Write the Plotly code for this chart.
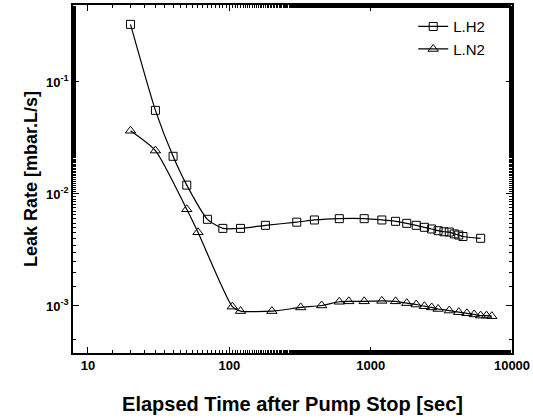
import plotly.graph_objects as go

h2_time = [20, 30, 40, 50, 70, 90, 120, 180, 300, 400, 600, 900, 1200, 1500, 1800,
           2100, 2400, 2700, 3000, 3300, 3600, 3900, 4200, 4500, 6000]
h2_rate = [0.327, 0.0558, 0.0217, 0.0120, 0.00594, 0.00493, 0.00493, 0.00525, 0.0056,
           0.00586, 0.00602, 0.00602, 0.00586, 0.0057, 0.00547, 0.00525, 0.00504,
           0.00487, 0.0047, 0.0046, 0.00457, 0.0044, 0.0043, 0.00417, 0.00402]

n2_time = [20, 30, 50, 60, 105, 120, 200, 320, 450, 600, 700, 900, 1200, 1500, 1800,
           2100, 2400, 2700, 3000, 3600, 4200, 4800, 5400, 6000, 6600, 7200]
n2_rate = [0.0367, 0.0244, 0.0073, 0.00455, 0.000986, 0.0009, 0.0009, 0.00097, 0.00101,
           0.00109, 0.0011, 0.0011, 0.00111, 0.0011, 0.00106, 0.00103, 0.000995, 0.00097,
           0.00094, 0.00091, 0.00088, 0.00086, 0.00084, 0.00082, 0.00082, 0.00081]

x_ticks = [10, 100, 1000, 10000]
x_ticktext = ["10", "100", "1000", "10000"]
y_ticks = [0.1, 0.01, 0.001]
y_ticktext = ["10<sup>-1</sup>", "10<sup>-2</sup>", "10<sup>-3</sup>"]

fig = go.Figure()
fig.add_trace(go.Scatter(
    x=h2_time, y=h2_rate, name="L.H2", mode="lines+markers",
    line=dict(color="black", width=1.2, shape="spline", smoothing=0.6),
    marker=dict(symbol="square-open", size=8, color="black", line=dict(width=1))))
fig.add_trace(go.Scatter(
    x=n2_time, y=n2_rate, name="L.N2", mode="lines+markers",
    line=dict(color="black", width=1.2, shape="spline", smoothing=0.6),
    marker=dict(symbol="triangle-up-open", size=9, color="black", line=dict(width=1))))

axis_common = dict(
    type="log", showline=True, linecolor="black", linewidth=1.5, mirror="allticks",
    ticks="inside", ticklen=6, tickwidth=1.2, tickcolor="black", showgrid=False,
    zeroline=False, automargin=False,
    minor=dict(ticks="inside", ticklen=3, tickwidth=1, tickcolor="black", showgrid=False),
    tickfont=dict(family="Liberation Sans", size=13, color="black", weight="bold"),
)

fig.update_layout(
    width=533, height=418,
    margin=dict(l=73, r=21, t=5, b=65),
    paper_bgcolor="white", plot_bgcolor="white",
    font=dict(family="Liberation Sans", color="black"),
    showlegend=True,
    legend=dict(x=0.775, y=0.985, xanchor="left", yanchor="top", bgcolor="rgba(0,0,0,0)",
                font=dict(size=15, family="Liberation Sans"), itemwidth=30,
                tracegroupgap=0),
    xaxis=dict(axis_common, range=[0.894, 4.0], tickvals=x_ticks, ticktext=x_ticktext,
               title=dict(text="Elapsed Time after Pump Stop [sec]", standoff=25,
                          font=dict(size=20, family="Liberation Sans", weight="bold"))),
    yaxis=dict(axis_common, range=[-3.42, -0.3125], tickvals=y_ticks, ticktext=y_ticktext,
               title=dict(text="Leak Rate [mbar.L/s]", standoff=4,
                          font=dict(size=18, family="Liberation Sans", weight="bold"))),
)

fig.write_html("out.html", config={"displayModeBar": False},
               post_script="document.body.style.margin='0';document.body.style.overflow='hidden';")
